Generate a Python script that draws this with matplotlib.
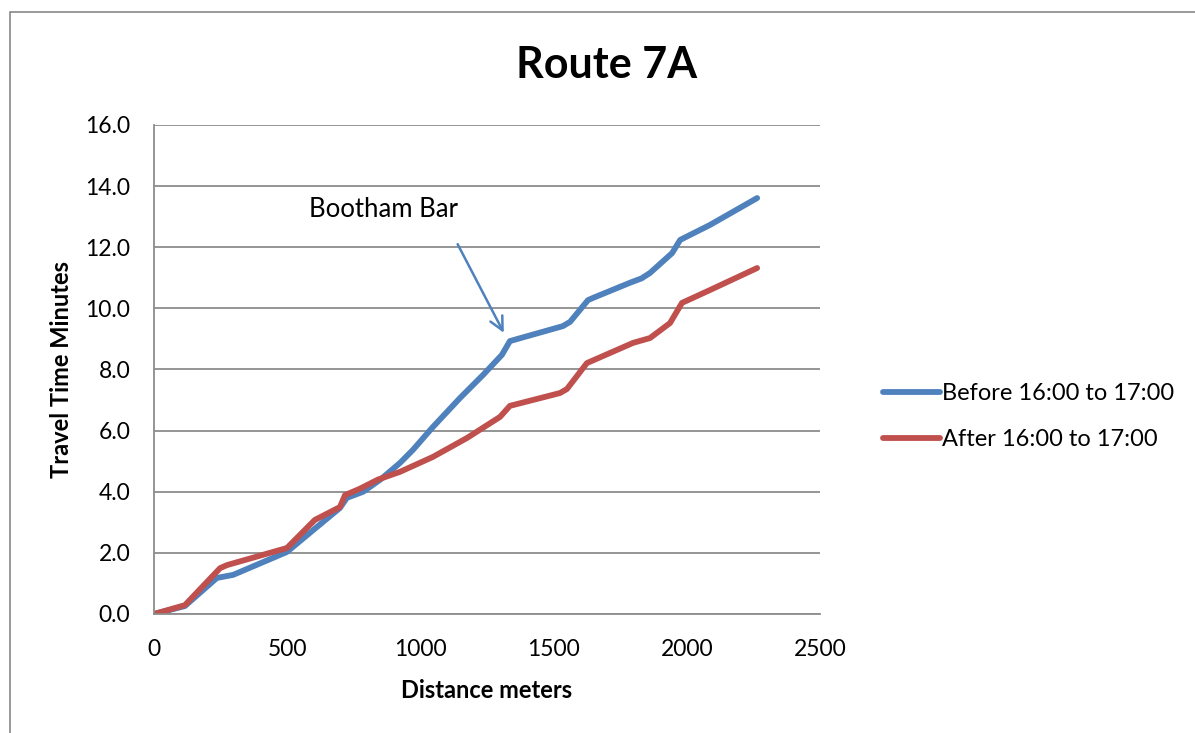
import matplotlib.pyplot as plt
from matplotlib.patches import Rectangle

plt.rcParams['font.family'] = ['Lato', 'DejaVu Sans']

before_dist = [0, 116, 236, 297, 499, 612, 698, 724, 785, 850, 923, 972, 1047, 1149,
               1235, 1306, 1336, 1535, 1562, 1629, 1650, 1790, 1830, 1862, 1945, 1975,
               2087, 2264]
before_time = [0, 0.26, 1.18, 1.28, 2.03, 2.85, 3.47, 3.8, 4.0, 4.4, 4.94, 5.37, 6.12, 7.07,
               7.82, 8.48, 8.93, 9.42, 9.56, 10.27, 10.35, 10.85, 10.98, 11.16, 11.81, 12.24,
               12.73, 13.61]

after_dist = [0, 116, 248, 274, 499, 604, 698, 717, 773, 841, 923, 1047, 1175, 1299,
              1336, 1524, 1550, 1625, 1798, 1862, 1937, 1982, 2087, 2264]
after_time = [0, 0.29, 1.5, 1.6, 2.16, 3.08, 3.5, 3.89, 4.1, 4.4, 4.65, 5.14, 5.76, 6.45,
              6.81, 7.23, 7.36, 8.21, 8.87, 9.03, 9.52, 10.18, 10.6, 11.32]

fig = plt.figure(figsize=(11.95, 7.33), dpi=100)
ax = fig.add_axes([154 / 1195, 1 - 614 / 733, (820 - 154) / 1195, (614 - 125) / 733])

# outer chart border
fig.patches.append(Rectangle((10 / 1195, -0.1), 1.2, 1 - 12 / 733 + 0.1,
                             transform=fig.transFigure, fill=False,
                             edgecolor='#888888', linewidth=1.2))

ax.plot(before_dist, before_time, color='#4F81BD', linewidth=4.2,
        solid_capstyle='round', solid_joinstyle='round', label='Before 16:00 to 17:00')
ax.plot(after_dist, after_time, color='#C0504D', linewidth=4.2,
        solid_capstyle='round', solid_joinstyle='round', label='After 16:00 to 17:00')

ax.set_xlim(0, 2500)
ax.set_ylim(0, 16)
ax.set_xticks(range(0, 2501, 500))
ax.set_yticks(range(0, 17, 2))
ax.set_yticklabels([f"{v:.1f}" for v in range(0, 17, 2)])
ax.tick_params(length=0, labelsize=16.5)
ax.tick_params(axis='y', pad=17)
ax.tick_params(axis='x', pad=18)
ax.yaxis.grid(True, color='#8c8c8c', linewidth=1.3)
ax.set_axisbelow(True)
for s in ['top', 'right']:
    ax.spines[s].set_visible(False)
for s in ['left', 'bottom']:
    ax.spines[s].set_color('#8c8c8c')
    ax.spines[s].set_linewidth(1.3)

fig.text(607 / 1195, 1 - 65 / 733, 'Route 7A', fontsize=31, fontweight='bold',
         ha='center', va='center')
ax.set_xlabel('Distance meters', fontsize=17, fontweight='bold', labelpad=14)
ax.set_ylabel('Travel Time Minutes', fontsize=17, fontweight='bold', labelpad=9)

ax.annotate('', xy=(1318, 9.12), xytext=(1135, 12.18),
            arrowprops=dict(arrowstyle='->', color='#4F81BD', lw=1.8, mutation_scale=24))
ax.text(863, 13.25, 'Bootham Bar', fontsize=18.5, ha='center', va='center')

ax.legend(loc='center left', bbox_to_anchor=(1.095, 0.404), frameon=False, fontsize=17,
          handlelength=2.4, handletextpad=0.1, labelspacing=1.05, borderpad=0,
          borderaxespad=0)

fig.savefig('out.png', dpi=100)
